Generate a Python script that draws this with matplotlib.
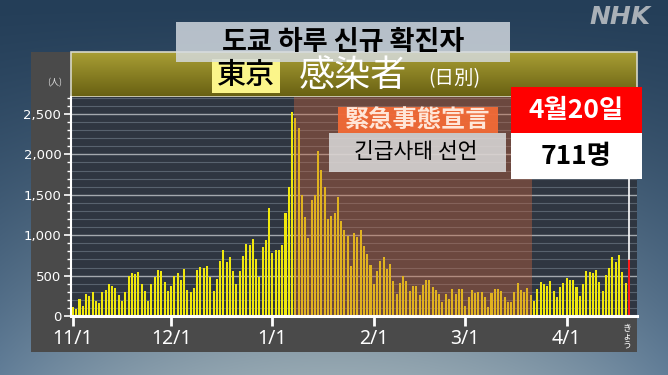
"""
도쿄 하루 신규 확진자 (NHK 스타일) 재현
"""
import datetime as dt
import numpy as np
import matplotlib
matplotlib.use('Agg')
import matplotlib.pyplot as plt
import matplotlib.patches as patches
from matplotlib.ticker import FuncFormatter, MultipleLocator

plt.rcParams['font.family'] = ['Noto Sans CJK KR', 'DejaVu Sans']

# 데이터 (11/1 ~ 4/20, 일별)
nov = [116, 87, 209, 122, 269, 242, 294, 189, 157, 293, 317, 393, 374, 352, 255,
       180, 298, 493, 534, 522, 539, 391, 314, 186, 401, 481, 570, 561, 418, 311]
dec = [372, 500, 533, 449, 584, 327, 299, 352, 572, 602, 595, 621, 480, 305, 460,
       678, 822, 664, 736, 556, 392, 563, 748, 888, 884, 949, 708, 481, 856, 944, 1337]
jan = [783, 814, 816, 884, 1278, 1591, 2520, 2450, 2330, 1494, 1219, 970, 1433, 1502, 2044,
       1809, 1592, 1204, 1240, 1274, 1471, 1175, 1070, 986, 618, 1026, 973, 1064, 868, 769, 633]
feb = [393, 556, 676, 734, 577, 639, 429, 276, 412, 491, 434, 307, 369, 371, 266,
       378, 445, 445, 353, 327, 272, 178, 275, 213, 340, 270, 337, 329]
mar = [121, 232, 316, 279, 301, 293, 237, 116, 290, 340, 335, 304, 239, 175, 175,
       300, 409, 323, 303, 342, 256, 187, 337, 420, 394, 376, 430, 313, 234, 364, 414]
apr = [475, 440, 446, 355, 249, 399, 555, 545, 537, 570, 421, 306, 510, 591, 729,
       667, 759, 543, 405, 711]

start = dt.date(2020, 11, 1)
month_ticks = [dt.date(2020, 11, 1), dt.date(2020, 12, 1), dt.date(2021, 1, 1),
               dt.date(2021, 2, 1), dt.date(2021, 3, 1), dt.date(2021, 4, 1)]
month_labels = ['11/1', '12/1', '1/1', '2/1', '3/1', '4/1']
emergency = (dt.date(2021, 1, 8), dt.date(2021, 3, 21))

values = np.array(nov + dec + jan + feb + mar + apr)
days = np.arange(len(values))

W, H = 668, 375
fig = plt.figure(figsize=(W / 100, H / 100), dpi=100)


def fx(px):
    return px / W


def fy(py):
    return 1 - py / H


# 배경 (그라데이션 + 패널)
ax_bg = fig.add_axes([0, 0, 1, 1], zorder=-1)
ax_bg.set_xlim(0, W)
ax_bg.set_ylim(H, 0)
ax_bg.axis('off')
yy = np.linspace(0, 1, H)[:, None, None]
xx = np.linspace(0, 1, W)[None, :, None]
top = np.array([36, 62, 88]) / 255
bot_c = np.array([150, 168, 178]) / 255
bot_e = np.array([98, 126, 152]) / 255
e = (np.abs(xx - 0.5) * 2) ** 2
bottom = bot_c * (1 - e) + bot_e * e
t = yy ** 1.3
grad = top * (1 - t) + bottom * t
ax_bg.imshow(grad, extent=[0, W, H, 0], aspect='auto', zorder=0)
ax_bg.add_patch(patches.Rectangle((31, 52), 606, 300, facecolor='#4a4a4a', edgecolor='none', zorder=1))
hg = np.linspace(0, 1, 45)[:, None, None]
head = np.array([168, 158, 52]) / 255 * (1 - hg) + np.array([104, 96, 18]) / 255 * hg
ax_bg.imshow(head, extent=[71, 637, 97, 52], aspect='auto', zorder=2)
ax_bg.add_patch(patches.Rectangle((71, 52), 566, 45, fill=False, edgecolor='#d8d8c8', linewidth=1.2, zorder=3))
ax_bg.text(55, 83, '(人)', color='#e0e0e0', fontsize=6.5, ha='center', va='center',
           family=['Noto Sans CJK JP', 'DejaVu Sans'], zorder=4)

# 메인 그래프
ax = fig.add_axes([fx(71), fy(316), fx(637) - fx(71), fy(97) - fy(316)], zorder=1)
ax.set_facecolor('#2f3641')
ax.set_xlim(-0.6, 172.5)
ax.set_ylim(0, 2710)

for v in np.arange(100, 2701, 100):
    if v % 500 == 0:
        ax.axhline(v, color='#a3a8ae', linewidth=1.0, zorder=1)
    else:
        ax.axhline(v, color='#58626e', linewidth=0.8, zorder=1)

colors = ['#f0e80e'] * (len(values) - 1) + ['#ff1a1a']
ax.bar(days, values, width=0.62, color=colors, edgecolor='none', zorder=2)

e0 = (emergency[0] - start).days - 0.5
e1 = (emergency[1] - start).days + 0.5
ax.axvspan(e0, e1, color='#c8643c', alpha=0.4, linewidth=0, zorder=3)

# 마지막 날 연결선
ax.plot([days[-1], days[-1]], [values[-1], 2710], color='white', linewidth=1.2, zorder=4)

for s in ['top', 'right']:
    ax.spines[s].set_visible(False)
ax.spines['bottom'].set_color('white')
ax.spines['bottom'].set_linewidth(2.2)
ax.spines['left'].set_color('white')
ax.spines['left'].set_linewidth(1.5)
ax.spines['bottom'].set_zorder(5)

ax.yaxis.set_major_locator(MultipleLocator(500))
ax.yaxis.set_minor_locator(MultipleLocator(100))
ax.yaxis.set_major_formatter(FuncFormatter(lambda v, p: f'{int(v):,}'))
ax.tick_params(axis='y', which='major', colors='white', length=5, width=1.2, labelsize=9.5, pad=2)
ax.tick_params(axis='y', which='minor', colors='white', length=3, width=1)
for lab in ax.get_yticklabels():
    lab.set_family(['DejaVu Sans'])

ax.set_xticks([(d - start).days for d in month_ticks])
ax.set_xticklabels(month_labels, family=['Noto Sans', 'DejaVu Sans'])
ax.tick_params(axis='x', colors='white', length=7, width=2, labelsize=14, pad=2)

# 오버레이 (텍스트 박스들)
ov = fig.add_axes([0, 0, 1, 1], zorder=3)
ov.set_xlim(0, W)
ov.set_ylim(H, 0)
ov.axis('off')
ov.patch.set_alpha(0)

ov.text(627, 336, '\n'.join('きょう'), color='white', fontsize=6.5, ha='center', va='center',
        linespacing=0.95, family=['Noto Sans CJK JP', 'DejaVu Sans'])

jp = ['Noto Sans CJK JP', 'DejaVu Sans']
ov.add_patch(patches.Rectangle((212, 59), 68, 34, facecolor='#fbf58a', edgecolor='none'))
ov.text(246, 76, '東京', color='black', fontsize=21, ha='center', va='center', family=jp, weight='medium')
ov.text(353, 76, '感染者', color='white', fontsize=26, ha='center', va='center', family=jp)
ov.text(454, 79, '(日別)', color='white', fontsize=14, ha='center', va='center', family=jp)

ov.add_patch(patches.Rectangle((176, 22), 334, 40, facecolor='#d6dce2', alpha=0.82, edgecolor='none'))
ov.text(343, 42, '도쿄 하루 신규 확진자', color='black', fontsize=19.5, ha='center', va='center', weight='bold')

ov.add_patch(patches.Rectangle((338, 107), 160, 26, facecolor='#f26a36', alpha=0.95, edgecolor='none'))
ov.text(418, 120, '緊急事態宣言', color='#ffe6d8', fontsize=17.5, ha='center', va='center',
        family=jp, weight='bold')
ov.add_patch(patches.Rectangle((329, 133), 177, 39, facecolor='#dcdcdc', alpha=0.85, edgecolor='none'))
ov.text(416, 152, '긴급사태 선언', color='black', fontsize=15.5, ha='center', va='center', weight='medium')

ov.add_patch(patches.Rectangle((511, 87), 131, 46, facecolor='#ff0000', edgecolor='none'))
ov.add_patch(patches.Rectangle((511, 133), 131, 46, facecolor='white', edgecolor='none'))
ov.text(576, 110, '4월20일', color='white', fontsize=19, ha='center', va='center', weight='bold')
ov.text(576, 157, f'{values[-1]}명', color='black', fontsize=19, ha='center', va='center', weight='bold')

ov.text(620, 17, 'NHK', color='#a9b0b7', fontsize=18, ha='center', va='center',
        weight='bold', style='italic', family=['DejaVu Sans'])

fig.savefig('out.png', dpi=100)
